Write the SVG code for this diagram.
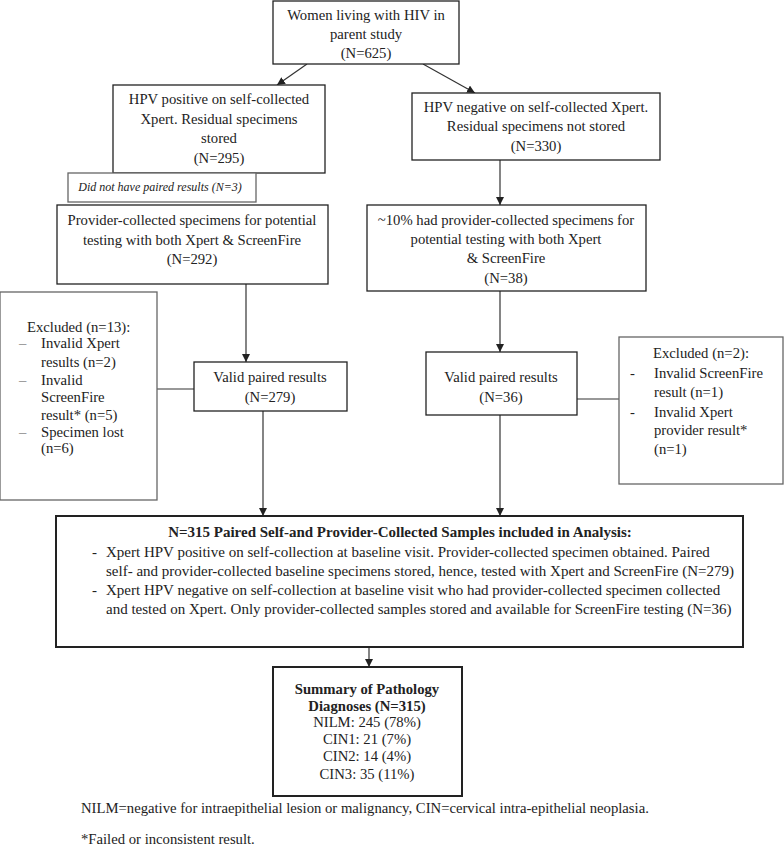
<svg xmlns="http://www.w3.org/2000/svg" width="784" height="847" viewBox="0 0 784 847">
<style>
text{font-family:"Liberation Serif","Times New Roman",serif;font-size:14.7px;fill:#222}
.c{text-anchor:middle}
.b{fill:#fff;stroke:#222;stroke-width:1.3}
.g{fill:#fff;stroke:#666;stroke-width:1.3}
.t{fill:#fff;stroke:#222;stroke-width:2}
.i{font-style:italic;font-size:12px}
.bd{font-weight:bold}
.big{font-size:15px}
.d{fill:#888}
.ln{stroke:#333;stroke-width:1.2;fill:none}
</style>
<defs>
<marker id="ah" viewBox="0 0 10 10" refX="10" refY="5" markerWidth="8" markerHeight="8" markerUnits="userSpaceOnUse" orient="auto">
<path d="M0,0L10,5L0,10z" fill="#222"/>
</marker>
</defs>
<rect width="784" height="847" fill="#fff"/>
<g id="connectors">
<line class="ln" x1="307" y1="64" x2="277" y2="85" marker-end="url(#ah)"/>
<line class="ln" x1="423" y1="64" x2="475" y2="93" marker-end="url(#ah)"/>
<line class="ln" x1="500" y1="160" x2="500" y2="205" marker-end="url(#ah)"/>
<line class="ln" x1="246" y1="284" x2="246" y2="362" marker-end="url(#ah)"/>
<line class="ln" x1="500" y1="282" x2="500" y2="352" marker-end="url(#ah)"/>
<line class="ln" x1="157" y1="389" x2="194" y2="389"/>
<line class="ln" x1="577" y1="399" x2="619" y2="399"/>
<line class="ln" x1="263" y1="411" x2="263" y2="516" marker-end="url(#ah)"/>
<line class="ln" x1="500" y1="415" x2="500" y2="516" marker-end="url(#ah)"/>
<line class="ln" x1="369" y1="647" x2="369" y2="667" marker-end="url(#ah)"/>
</g>
<g id="n-women">
<rect class="b" x="273" y="1" width="186" height="63"/>
<text class="c" x="366" y="20">Women living with HIV in</text>
<text class="c" x="366" y="39">parent study</text>
<text class="c" x="366" y="58">(N=625)</text>
</g>
<g id="n-hpvpos">
<rect class="b" x="113" y="85" width="212" height="88"/>
<text class="c" x="219" y="104">HPV positive on self-collected</text>
<text class="c" x="219" y="124">Xpert. Residual specimens</text>
<text class="c" x="219" y="143">stored</text>
<text class="c" x="219" y="163">(N=295)</text>
</g>
<g id="n-nopaired">
<rect class="g" x="68" y="173" width="188" height="29"/>
<text class="c i" x="160" y="191">Did not have paired results (N=3)</text>
</g>
<g id="n-hpvneg">
<rect class="b" x="412" y="93" width="248" height="67"/>
<text class="c" x="536" y="112">HPV negative on self-collected Xpert.</text>
<text class="c" x="536" y="131">Residual specimens not stored</text>
<text class="c" x="536" y="151">(N=330)</text>
</g>
<g id="n-provider">
<rect class="b" x="57" y="205" width="271" height="79"/>
<text class="c" x="192" y="225">Provider-collected specimens for potential</text>
<text class="c" x="192" y="245">testing with both Xpert &amp; ScreenFire</text>
<text class="c" x="192" y="264">(N=292)</text>
</g>
<g id="n-tenpct">
<rect class="b" x="367" y="205" width="279" height="86"/>
<text class="c" x="506" y="225">~10% had provider-collected specimens for</text>
<text class="c" x="506" y="244">potential testing with both Xpert</text>
<text class="c" x="506" y="263">&amp; ScreenFire</text>
<text class="c" x="506" y="283">(N=38)</text>
</g>
<g id="n-excl13">
<rect class="g" x="0" y="292" width="157" height="208"/>
<text x="27" y="332">Excluded (n=13):</text>
<text class="d" x="19" y="348">–</text><text x="41" y="348">Invalid Xpert</text>
<text x="41" y="367">results (n=2)</text>
<text class="d" x="19" y="385">–</text><text x="41" y="385">Invalid</text>
<text x="41" y="402">ScreenFire</text>
<text x="41" y="420">result* (n=5)</text>
<text class="d" x="19" y="437">–</text><text x="41" y="437">Specimen lost</text>
<text x="41" y="453">(n=6)</text>
</g>
<g id="n-valid279">
<rect class="b" x="194" y="362" width="153" height="49"/>
<text class="c" x="270" y="382">Valid paired results</text>
<text class="c" x="270" y="402">(N=279)</text>
</g>
<g id="n-valid36">
<rect class="b" x="426" y="352" width="151" height="63"/>
<text class="c" x="501" y="382">Valid paired results</text>
<text class="c" x="501" y="402">(N=36)</text>
</g>
<g id="n-excl2">
<rect class="g" x="619" y="337" width="164" height="147"/>
<text x="653" y="358">Excluded (n=2):</text>
<text x="630" y="378">-</text><text x="654" y="378">Invalid ScreenFire</text>
<text x="654" y="397">result (n=1)</text>
<text x="630" y="417">-</text><text x="654" y="417">Invalid Xpert</text>
<text x="654" y="435">provider result*</text>
<text x="654" y="454">(n=1)</text>
</g>
<g id="n-analysis">
<rect class="t" x="56" y="516" width="687" height="131"/>
<text class="c bd big" x="400" y="537">N=315 Paired Self-and Provider-Collected Samples included in Analysis:</text>
<text class="big" x="92" y="557">-</text><text class="big" x="106" y="557">Xpert HPV positive on self-collection at baseline visit. Provider-collected specimen obtained. Paired</text>
<text class="big" x="106" y="576">self- and provider-collected baseline specimens stored, hence, tested with Xpert and ScreenFire (N=279)</text>
<text class="big" x="92" y="595">-</text><text class="big" x="106" y="595">Xpert HPV negative on self-collection at baseline visit who had provider-collected specimen collected</text>
<text class="big" x="106" y="614">and tested on Xpert. Only provider-collected samples stored and available for ScreenFire testing (N=36)</text>
</g>
<g id="n-summary">
<rect class="t" x="273" y="667" width="189" height="129"/>
<text class="c bd" x="367" y="694">Summary of Pathology</text>
<text class="c bd" x="367" y="711">Diagnoses (N=315)</text>
<text class="c" x="367" y="727">NILM: 245 (78%)</text>
<text class="c" x="367" y="744">CIN1: 21 (7%)</text>
<text class="c" x="367" y="761">CIN2: 14 (4%)</text>
<text class="c" x="367" y="779">CIN3: 35 (11%)</text>
</g>
<g id="footnotes">
<text x="81" y="813">NILM=negative for intraepithelial lesion or malignancy, CIN=cervical intra-epithelial neoplasia.</text>
<text x="81" y="844">*Failed or inconsistent result.</text>
</g>
</svg>
